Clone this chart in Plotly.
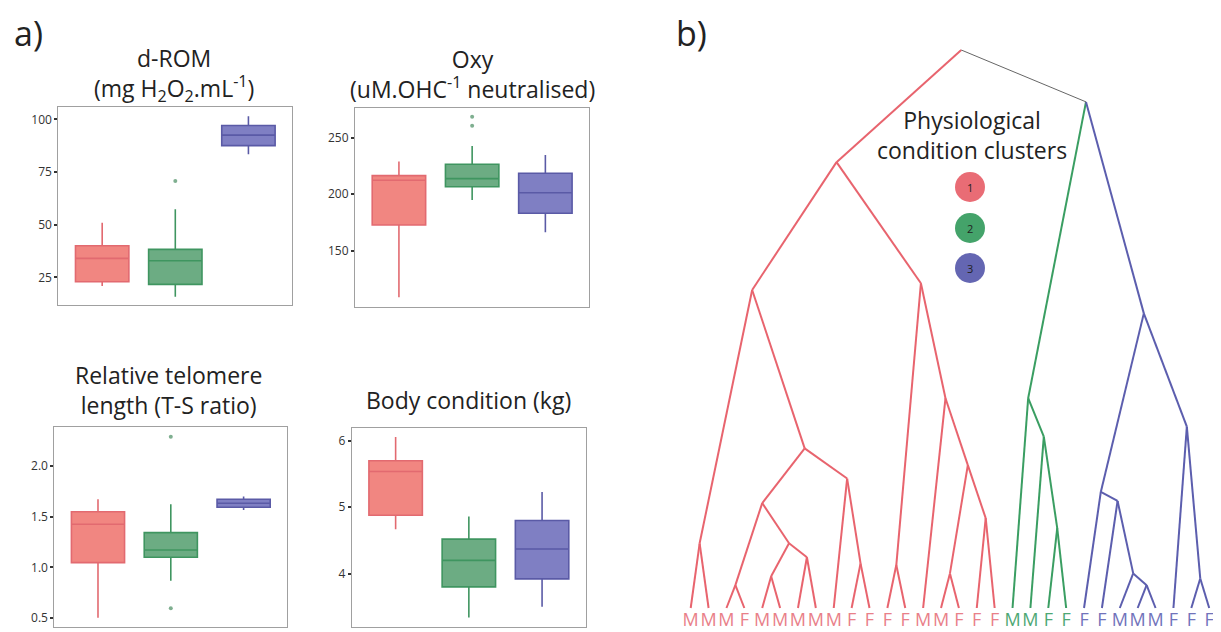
import plotly.graph_objects as go

# ---------------- Data ----------------
clusters = ["1", "2", "3"]
cluster_pos = [0, 1, 2]

# box statistics per cluster: [q1, median, q3, lower whisker, upper whisker]
drom_q1 = [22.9, 21.7, 87.5]
drom_med = [34.0, 32.9, 92.5]
drom_q3 = [40.0, 38.3, 97.1]
drom_lo = [20.9, 15.8, 83.4]
drom_hi = [50.9, 57.3, 101.4]
drom_out_x = [1]
drom_out_y = [70.7]

oxy_q1 = [172.8, 206.7, 183.2]
oxy_med = [212.4, 213.8, 201.4]
oxy_q3 = [216.5, 226.5, 218.6]
oxy_lo = [108.8, 194.9, 166.4]
oxy_hi = [228.9, 242.7, 234.8]
oxy_out_x = [1, 1]
oxy_out_y = [260.7, 268.7]

tel_q1 = [1.046, 1.099, 1.594]
tel_med = [1.426, 1.171, 1.634]
tel_q3 = [1.550, 1.343, 1.673]
tel_lo = [0.500, 0.867, 1.567]
tel_hi = [1.673, 1.624, 1.700]
tel_out_x = [1, 1]
tel_out_y = [2.293, 0.594]

body_q1 = [4.88, 3.80, 3.92]
body_med = [5.54, 4.20, 4.37]
body_q3 = [5.70, 4.52, 4.80]
body_lo = [4.67, 3.34, 3.50]
body_hi = [6.06, 4.86, 5.23]

# dendrogram: 30 leaves, sex labels, cluster of each leaf
leaf_labels = list("MMMFMMMMMFFFFMMFFF") + list("MMFF") + list("FFMMMFFF")
leaf_cluster = [1] * 18 + [2] * 4 + [3] * 8
# merges: (child a, child b, height); new node ids start at 30
merges = [
    (0, 1, 1.16), (2, 3, 0.41), (4, 5, 0.57), (6, 7, 0.91), (32, 33, 1.16),
    (31, 34, 1.88), (9, 10, 0.80), (8, 36, 2.32), (35, 37, 2.86), (30, 38, 5.70),
    (11, 12, 0.77), (14, 15, 0.62), (16, 17, 1.61), (41, 42, 2.56), (13, 43, 3.76),
    (40, 44, 5.82), (39, 45, 7.99), (20, 21, 1.43), (19, 47, 3.07), (18, 48, 3.76),
    (25, 26, 0.41), (24, 50, 0.62), (23, 51, 1.92), (22, 52, 2.08), (28, 29, 0.53),
    (27, 54, 3.25), (53, 55, 5.28), (49, 56, 9.07), (46, 57, 10.0),
]

# ---------------- Styles ----------------
box_fill = ["rgba(240,128,122,0.95)", "rgba(100,168,124,0.95)", "rgba(120,120,192,0.95)"]
box_line = ["#E26A70", "#3F9560", "#5A5AA6"]
out_col = ["#E26A70", "#7FAF90", "#8A8AC4"]
dend_col = {1: "#E8646E", 2: "#3A9E62", 3: "#5C5EAE", 0: "#666666"}
label_col = {1: "#E98089", 2: "#4EA874", 3: "#7173BB"}
FONT = "Open Sans"

fig = go.Figure()

panels = [
    (drom_q1, drom_med, drom_q3, drom_lo, drom_hi, drom_out_x, drom_out_y, "x", "y"),
    (oxy_q1, oxy_med, oxy_q3, oxy_lo, oxy_hi, oxy_out_x, oxy_out_y, "x2", "y2"),
    (tel_q1, tel_med, tel_q3, tel_lo, tel_hi, tel_out_x, tel_out_y, "x3", "y3"),
    (body_q1, body_med, body_q3, body_lo, body_hi, [], [], "x4", "y4"),
]
for q1, med, q3, lo, hi, ox, oy, xa, ya in panels:
    for i in range(3):
        fig.add_trace(go.Box(
            x=[cluster_pos[i]], q1=[q1[i]], median=[med[i]], q3=[q3[i]],
            lowerfence=[lo[i]], upperfence=[hi[i]], width=0.73,
            fillcolor=box_fill[i], line=dict(color=box_line[i], width=1.6),
            whiskerwidth=0, boxpoints=False, xaxis=xa, yaxis=ya,
            showlegend=False, hoverinfo="skip"))
    if ox:
        fig.add_trace(go.Scatter(
            x=ox, y=oy, mode="markers", xaxis=xa, yaxis=ya,
            marker=dict(size=4, color=[out_col[c] for c in ox]),
            showlegend=False, hoverinfo="skip"))

# ---------------- Dendrogram ----------------
n = len(leaf_labels)
node_x = {i: float(i) for i in range(n)}
node_h = {i: 0.0 for i in range(n)}
node_cl = {i: leaf_cluster[i] for i in range(n)}
children = {}
for k, (a, b, h) in enumerate(merges):
    nid = n + k
    node_x[nid] = (node_x[a] + node_x[b]) / 2
    node_h[nid] = h
    node_cl[nid] = node_cl[a] if node_cl[a] == node_cl[b] else 0
    children[nid] = (a, b)

segs = {c: ([], []) for c in dend_col}
for nid, (a, b) in children.items():
    for ch in (a, b):
        c = node_cl[ch]
        segs[c][0].extend([node_x[nid], node_x[ch], None])
        segs[c][1].extend([node_h[nid], node_h[ch], None])

for c, (xs, ys) in segs.items():
    if not xs:
        continue
    fig.add_trace(go.Scatter(
        x=xs, y=ys, mode="lines", xaxis="x5", yaxis="y5",
        line=dict(color=dend_col[c], width=1.0 if c == 0 else 2.0),
        showlegend=False, hoverinfo="skip"))

fig.add_trace(go.Scatter(
    x=list(range(n)), y=[-0.24] * n, mode="text", text=leaf_labels,
    textfont=dict(family=FONT, size=18, color=[label_col[c] for c in leaf_cluster]),
    xaxis="x5", yaxis="y5", showlegend=False, hoverinfo="skip"))

# ---------------- Layout ----------------
# the page body adds an 8px offset; work in window pixels and convert
OFF = 8
W, H = 1221 - OFF, 632 - OFF

def dx(p):
    return (p - OFF) / W

def dy(p):
    return 1 - (p - OFF) / H

box_axis = dict(showline=True, mirror=True, linecolor="#a0a0a0", linewidth=1,
                showgrid=False, zeroline=False)
xbox = dict(box_axis, range=[-0.6, 2.6], showticklabels=False, ticks="")
ybox = dict(box_axis, ticks="outside", ticklen=3, tickwidth=1.5, tickcolor="#333",
            tickfont=dict(family=FONT, size=12, color="#333"))

fig.update_layout(
    width=W, height=H, margin=dict(l=0, r=0, t=0, b=0),
    paper_bgcolor="white", plot_bgcolor="white", boxmode="overlay",
    font=dict(family=FONT),
    xaxis=dict(xbox, domain=[dx(58.3), dx(292.3)], anchor="y"),
    yaxis=dict(ybox, domain=[dy(305), dy(107.3)], anchor="x", range=[11.9, 105.7],
               tickvals=[25, 50, 75, 100]),
    xaxis2=dict(xbox, domain=[dx(355), dx(589.3)], anchor="y2"),
    yaxis2=dict(ybox, domain=[dy(306.7), dy(107.7)], anchor="x2", range=[100.5, 276.6],
                tickvals=[150, 200, 250]),
    xaxis3=dict(xbox, domain=[dx(54.3), dx(287.3)], anchor="y3"),
    yaxis3=dict(ybox, domain=[dy(626.7), dy(427.3)], anchor="x3", range=[0.412, 2.386],
                tickvals=[0.5, 1.0, 1.5, 2.0], ticktext=["0.5", "1.0", "1.5", "2.0"]),
    xaxis4=dict(xbox, domain=[dx(351.7), dx(586)], anchor="y4"),
    yaxis4=dict(ybox, domain=[dy(626.7), dy(428.3)], anchor="x4", range=[3.20, 6.19],
                tickvals=[4, 5, 6]),
    # leaves at window x = 690.7 + 17.88*i, leaf baseline at window y = 608, 55.8 px per unit
    xaxis5=dict(domain=[dx(660), 1.0], anchor="y5", range=[-1.717, 29.66], visible=False),
    yaxis5=dict(domain=[0, 1], anchor="x5", range=[-0.43, (608 - OFF) / 55.8], visible=False),
)

ann = [
    ("a)", 28, 33, 34), ("b)", 691, 33, 34),
    ("d-ROM<br>(mg H<sub>2</sub>O<sub>2</sub>.mL<sup>-1</sup>)", 174, 75, 23),
    ("Oxy<br>(uM.OHC<sup>-1</sup> neutralised)", 472, 74, 23),
    ("Relative telomere<br>length (T-S ratio)", 168, 390, 23),
    ("Body condition (kg)", 468, 400, 23),
    ("Physiological<br>condition clusters", 972, 135, 23),
]
for text, x, y, s in ann:
    fig.add_annotation(text=text, x=dx(x), y=dy(y), xref="paper", yref="paper",
                       showarrow=False, xanchor="center", yanchor="middle",
                       font=dict(family=FONT, size=s, color="#222"))

legend_y = [187, 228, 268]
for i, c in enumerate(clusters):
    cx, cy, r = 970, legend_y[i], 15
    fig.add_shape(type="circle", xref="paper", yref="paper",
                  x0=dx(cx - r), x1=dx(cx + r), y0=dy(cy + r), y1=dy(cy - r),
                  fillcolor=dend_col[i + 1], line=dict(width=0), opacity=0.95)
    fig.add_annotation(text=c, x=dx(cx), y=dy(cy), xref="paper", yref="paper",
                       showarrow=False, xanchor="center", yanchor="middle",
                       font=dict(family=FONT, size=11, color="#222"))

fig.write_html("out.html")
